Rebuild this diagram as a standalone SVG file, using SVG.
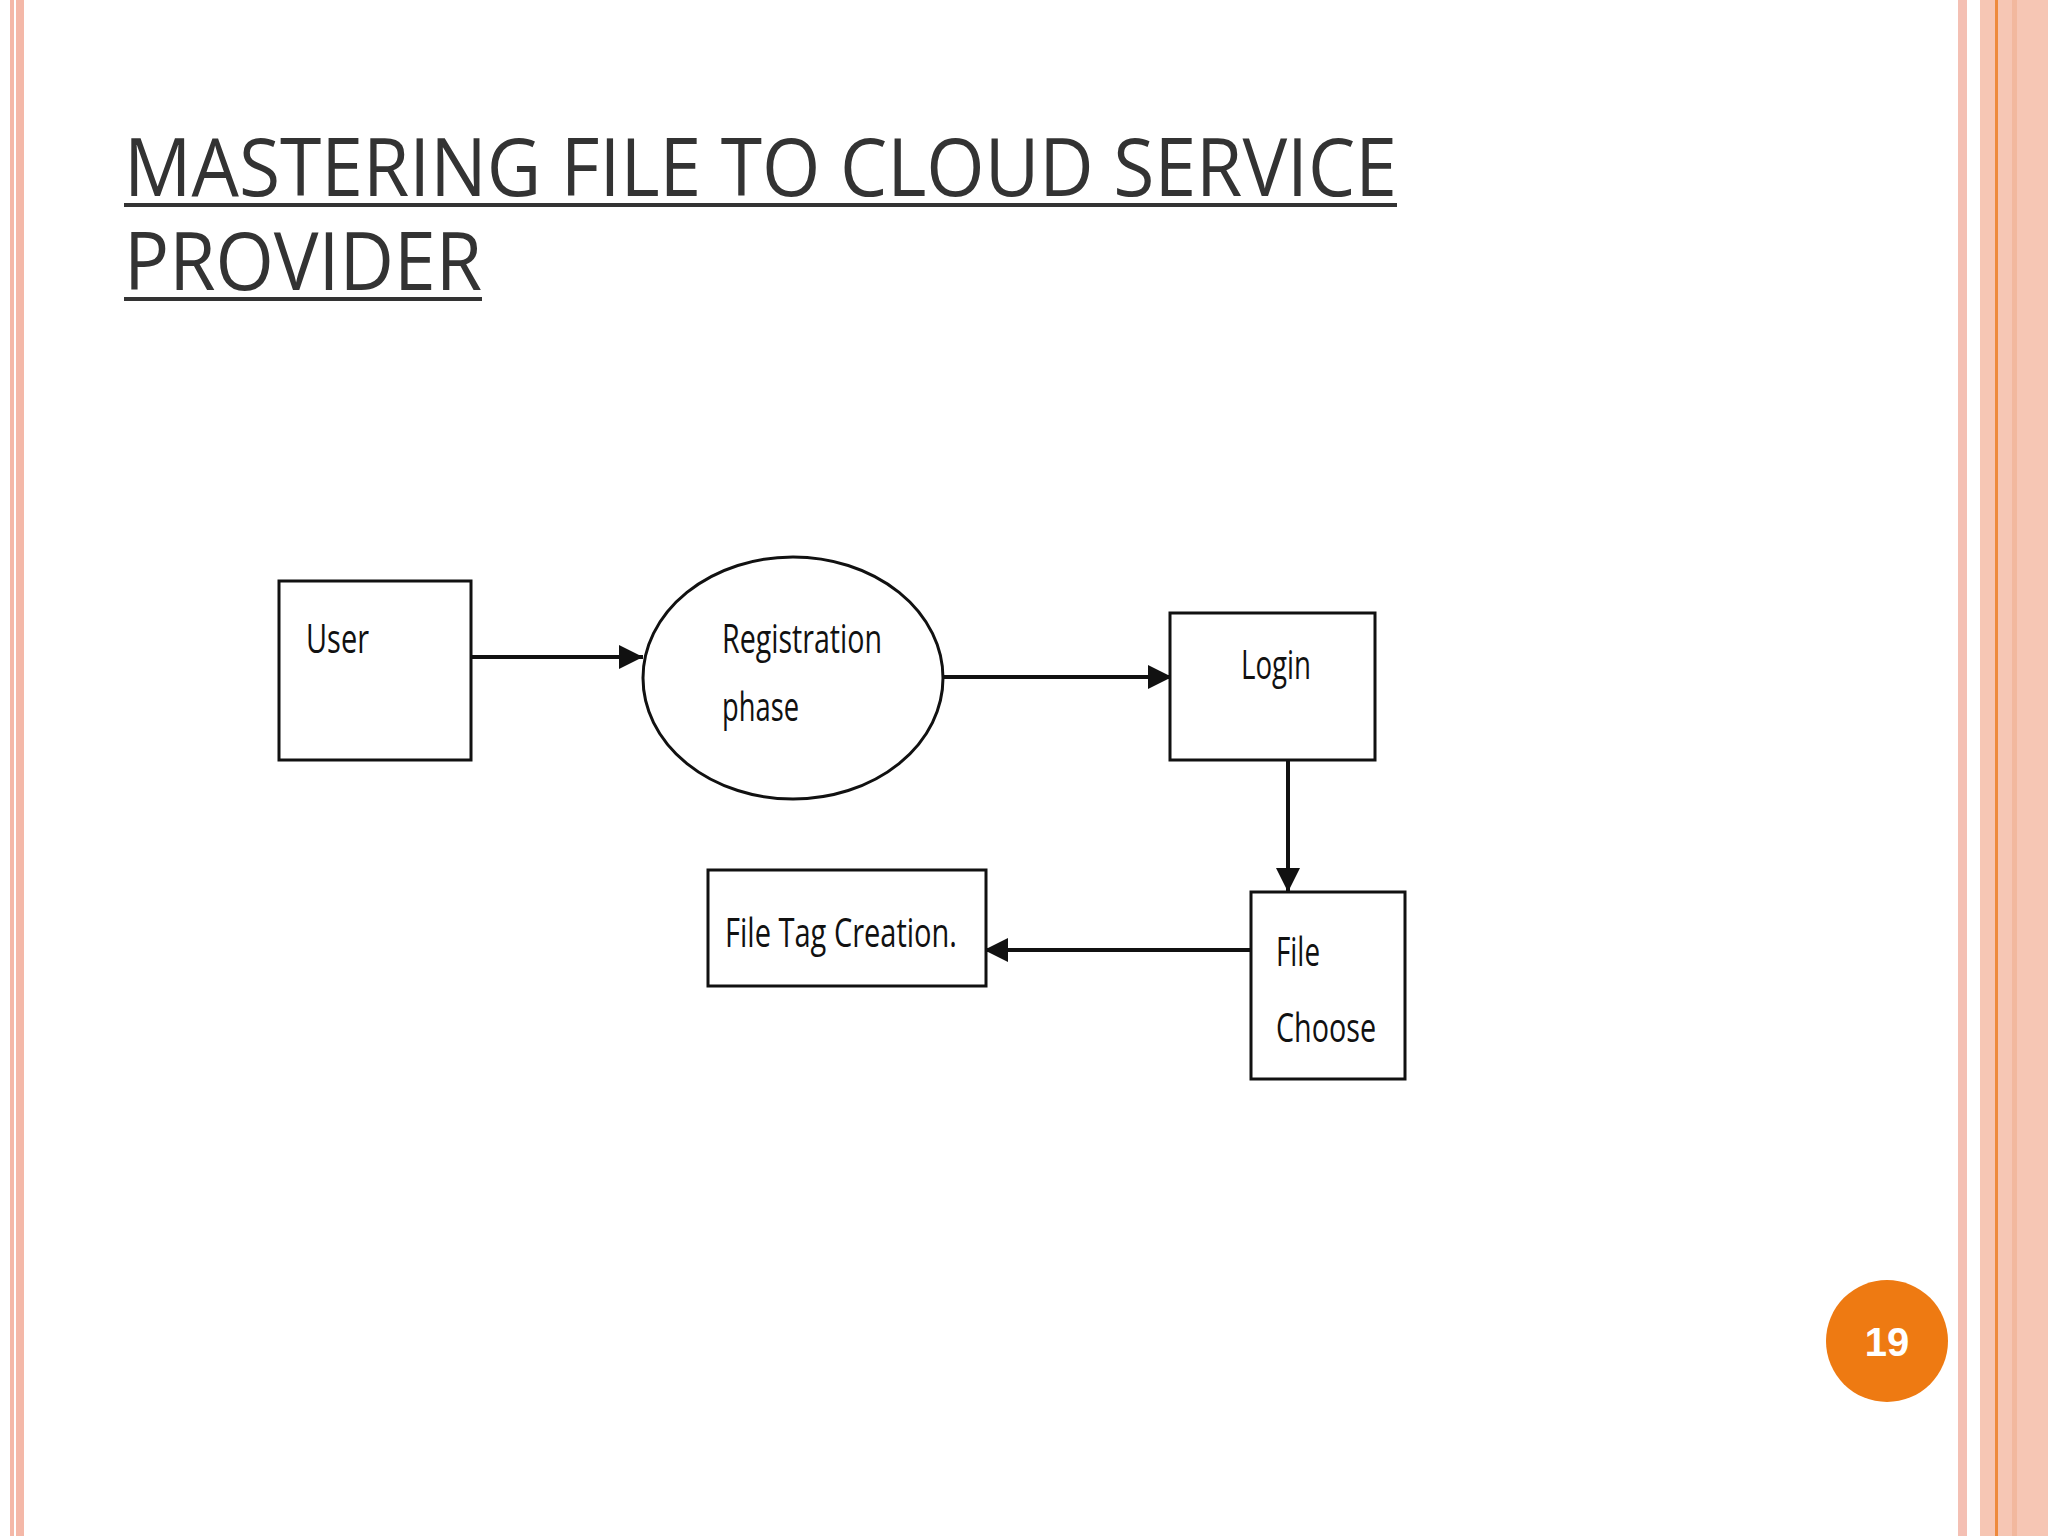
<svg xmlns="http://www.w3.org/2000/svg" width="2048" height="1536" viewBox="0 0 2048 1536">
<defs>
<style>
.box{fill:#fff;stroke:#111;stroke-width:3}
.lbl{font-family:"Open Sans",sans-serif;font-size:40px;fill:#111}
.ttl{font-family:"Open Sans",sans-serif;font-size:80px;fill:#333}
.c{stroke:#111;stroke-width:4;fill:none}
</style>
<marker id="ah" viewBox="0 0 10 10" refX="10" refY="5" markerWidth="24" markerHeight="24" markerUnits="userSpaceOnUse" orient="auto"><path d="M0,0 L10,5 L0,10 z" fill="#111"/></marker>
</defs>
<rect width="2048" height="1536" fill="#fff"/>
<g id="borders">
<rect x="10" y="0" width="4" height="1536" fill="#f4b8a8"/>
<rect x="16" y="0" width="8" height="1536" fill="#f4b8a8"/>
<rect x="1958" y="0" width="9" height="1536" fill="#f4c0b4"/>
<rect x="1980" y="0" width="68" height="1536" fill="#f6c6b4"/>
<rect x="1995" y="0" width="3" height="1536" fill="#ee8a3c"/>
<rect x="2012" y="0" width="5" height="1536" fill="#f2b89e"/>
</g>
<g id="title">
<text class="ttl" x="124" y="196" textLength="1273" lengthAdjust="spacingAndGlyphs">MASTERING FILE TO CLOUD SERVICE</text>
<rect x="124" y="203" width="1273" height="4" fill="#333"/>
<text class="ttl" x="124" y="290" textLength="358" lengthAdjust="spacingAndGlyphs">PROVIDER</text>
<rect x="124" y="297" width="358" height="4" fill="#333"/>
</g>
<g id="connectors">
<line class="c" x1="471" y1="657" x2="643" y2="657" marker-end="url(#ah)"/>
<line class="c" x1="943" y1="677" x2="1172" y2="677" marker-end="url(#ah)"/>
<line class="c" x1="1288" y1="747" x2="1288" y2="892" marker-end="url(#ah)"/>
<line class="c" x1="1251" y1="950" x2="984" y2="950" marker-end="url(#ah)"/>
</g>
<g id="user"><rect class="box" x="279" y="581" width="192" height="179"/><text class="lbl" x="306" y="653" textLength="63" lengthAdjust="spacingAndGlyphs">User</text></g>
<g id="registration"><ellipse class="box" cx="793" cy="678" rx="150" ry="121"/><text class="lbl" x="722" y="653" textLength="160" lengthAdjust="spacingAndGlyphs">Registration</text><text class="lbl" x="722" y="721" textLength="77" lengthAdjust="spacingAndGlyphs">phase</text></g>
<g id="login"><rect class="box" x="1170" y="613" width="205" height="147"/><text class="lbl" x="1241" y="679" textLength="70" lengthAdjust="spacingAndGlyphs">Login</text></g>
<g id="filechoose"><rect class="box" x="1251" y="892" width="154" height="187" stroke-width="4"/><text class="lbl" x="1276" y="966" textLength="44" lengthAdjust="spacingAndGlyphs">File</text><text class="lbl" x="1276" y="1042" textLength="100" lengthAdjust="spacingAndGlyphs">Choose</text></g>
<g id="filetag"><rect class="box" x="708" y="870" width="278" height="116" stroke-width="4"/><text class="lbl" x="725" y="947" textLength="232" lengthAdjust="spacingAndGlyphs">File Tag Creation.</text></g>
<g id="page"><circle cx="1887" cy="1341" r="61" fill="#ee7a12"/><text x="1887" y="1356" text-anchor="middle" font-family="Liberation Sans,sans-serif" font-weight="bold" font-size="40" fill="#fff">19</text></g>
</svg>
